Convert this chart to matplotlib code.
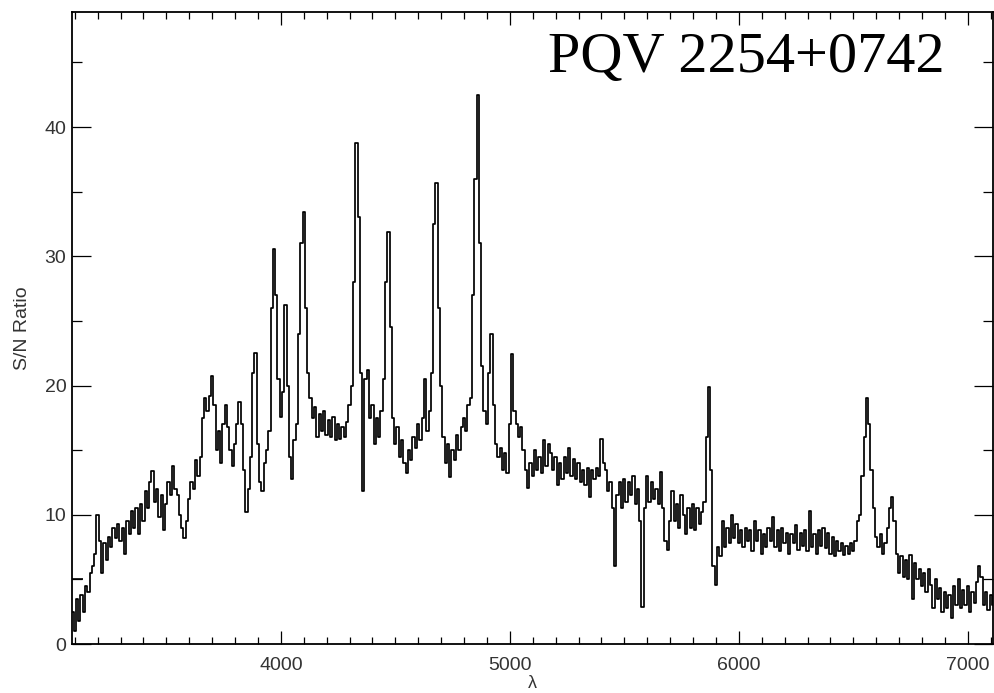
import numpy as np
import matplotlib.pyplot as plt
from matplotlib.ticker import MultipleLocator

# wavelength grid (Angstrom), one bin every 10 A
wavelength = np.arange(3090, 7111, 10)

# S/N ratio, one row per 100 A (row start in comment)
sn_ratio = [
    2.5, 1.0, 3.5, 1.8, 3.8, 2.5, 4.5, 4.0, 5.5, 6.0,        # 3090
    7.0, 10.0, 8.0, 5.5, 7.8, 6.5, 8.3, 7.5, 9.0, 8.2,       # 3190
    9.3, 8.0, 9.0, 7.0, 9.5, 8.5, 10.3, 9.0, 10.5, 8.5,      # 3290
    10.8, 9.5, 11.8, 10.5, 12.5, 13.4, 11.0, 12.0, 9.8, 11.5,  # 3390
    8.8, 10.8, 12.5, 11.5, 13.8, 12.0, 11.5, 10.0, 9.0, 8.2,   # 3490
    9.5, 11.2, 12.5, 12.0, 14.2, 13.0, 14.5, 17.5, 19.0, 18.0,  # 3590
    19.2, 20.7, 18.5, 15.0, 16.5, 14.0, 17.0, 18.5, 16.8, 15.0,  # 3690
    13.8, 15.5, 17.0, 18.7, 17.0, 13.5, 10.2, 12.0, 14.5, 21.0,  # 3790
    22.5, 15.5, 12.5, 11.8, 14.0, 15.0, 16.5, 26.0, 30.6, 27.0,  # 3890
    20.5, 17.6, 19.5, 26.2, 20.0, 14.5, 12.8, 15.8, 17.0, 24.0,  # 3990
    31.0, 33.4, 26.0, 21.0, 19.0, 17.5, 18.3, 16.0, 17.8, 16.5,  # 4090
    18.0, 16.2, 17.3, 16.0, 17.6, 15.8, 17.0, 15.9, 16.8, 16.0,  # 4190
    17.2, 18.5, 20.0, 28.0, 38.8, 33.0, 21.0, 11.8, 20.5, 21.2,  # 4290
    17.5, 18.5, 15.5, 17.5, 16.0, 18.0, 20.5, 28.0, 31.9, 24.5,  # 4390
    17.5, 15.5, 16.8, 14.5, 15.8, 14.0, 13.2, 15.0, 14.2, 16.0,  # 4490
    15.2, 17.0, 15.8, 17.5, 20.5, 16.5, 18.0, 21.0, 32.5, 35.7,  # 4590
    26.0, 20.0, 16.0, 14.0, 15.5, 12.9, 15.0, 14.2, 16.2, 15.0,  # 4690
    16.8, 17.5, 16.5, 18.5, 19.0, 27.0, 36.0, 42.5, 31.0, 21.5,  # 4790
    18.0, 17.0, 21.0, 24.0, 18.5, 15.5, 14.5, 15.2, 13.5, 14.8,  # 4890
    13.2, 17.0, 22.4, 18.0, 17.0, 16.0, 16.8, 15.0, 13.5, 12.1,  # 4990
    14.0, 13.0, 15.0, 13.5, 14.5, 13.2, 15.8, 13.8, 15.5, 14.8,  # 5090
    13.5, 14.5, 12.3, 14.0, 12.8, 14.5, 13.2, 15.2, 13.0, 14.3,  # 5190
    12.8, 14.0, 12.5, 13.5, 12.3, 13.6, 11.4, 13.5, 12.8, 13.6,  # 5290
    13.0, 15.9, 14.0, 13.5, 11.8, 12.5, 10.5, 6.0, 11.5, 12.5,   # 5390
    10.5, 12.8, 11.0, 12.5, 11.5, 13.0, 10.8, 12.0, 9.5, 2.9,    # 5490
    10.5, 13.0, 11.0, 12.5, 11.2, 12.0, 10.8, 13.3, 10.5, 8.0,   # 5590
    7.3, 9.5, 11.8, 9.5, 10.8, 9.0, 11.5, 10.0, 8.5, 10.5,       # 5690
    9.0, 10.8, 8.8, 10.5, 9.3, 10.2, 11.0, 16.0, 19.9, 13.5,     # 5790
    6.0, 4.6, 7.5, 6.8, 9.5, 7.5, 9.0, 7.8, 10.0, 8.2,           # 5890
    9.3, 7.8, 8.8, 7.5, 9.0, 8.0, 8.8, 7.2, 9.5, 8.0,            # 5990
    8.8, 7.0, 8.5, 7.5, 9.0, 8.0, 9.8, 7.5, 8.8, 7.2,            # 6090
    9.0, 7.8, 8.6, 7.0, 8.5, 7.8, 9.2, 7.3, 8.6, 7.6,            # 6190
    8.8, 7.2, 10.3, 7.5, 8.5, 7.0, 8.8, 7.6, 9.0, 7.4,           # 6290
    8.6, 7.0, 8.3, 6.8, 8.0, 7.2, 7.8, 6.9, 7.6, 7.0,            # 6390
    7.8, 7.2, 8.0, 9.5, 10.0, 13.0, 16.0, 19.0, 17.0, 13.5,      # 6490
    10.5, 8.3, 7.5, 8.5, 7.0, 7.8, 9.0, 10.5, 11.4, 9.5,         # 6590
    7.0, 5.5, 6.8, 5.2, 6.5, 5.0, 6.9, 3.5, 6.3, 5.0,            # 6690
    5.8, 4.5, 5.5, 4.0, 5.8, 4.6, 2.8, 5.0, 3.5, 4.3,            # 6790
    2.5, 4.0, 2.8, 3.8, 2.0, 4.5, 3.0, 5.0, 2.8, 4.2,            # 6890
    3.0, 4.5, 2.5, 4.0, 3.2, 4.8, 6.0, 5.2, 3.0, 4.0,            # 6990
    2.6, 3.8, 3.0,                                               # 7090
]

# the wide first bin drawn at the left edge
first_bin_edges = [3088, 3136]
first_bin_value = [5.0]

x_ticks = [4000, 5000, 6000, 7000]
y_ticks = [0, 10, 20, 30, 40]
label = "PQV 2254+0742"

plt.rcParams['font.family'] = ['Liberation Sans', 'DejaVu Sans']

fig = plt.figure(figsize=(9.94, 6.93), dpi=100)
ax = fig.add_axes([0.0724, 0.0707, 0.9266, 0.912])

ax.step(wavelength, sn_ratio, where='mid', color='black', lw=1.25)
ax.stairs(first_bin_value, first_bin_edges, baseline=None, color='black', lw=1.2)

ax.set_xlim(3088, 7110)
ax.set_ylim(0, 48.9)
ax.set_xticks(x_ticks)
ax.set_yticks(y_ticks)
ax.xaxis.set_minor_locator(MultipleLocator(100))
ax.yaxis.set_minor_locator(MultipleLocator(5))

ax.tick_params(axis='both', which='both', direction='in', top=True, right=True,
               colors='black', labelcolor='#333333', labelsize=14, width=0.9)
ax.tick_params(axis='x', which='major', length=9.5, pad=9)
ax.tick_params(axis='x', which='minor', length=5)
ax.tick_params(axis='y', which='major', length=13.5, pad=4)
ax.tick_params(axis='y', which='minor', length=7)
for s in ax.spines.values():
    s.set_linewidth(1.3)

ax.set_xlabel("λ", fontsize=13, color='#333333', labelpad=1)
ax.set_ylabel("S/N Ratio", fontsize=14, color='#333333', labelpad=10)

ax.text(0.947, 0.905, label, transform=ax.transAxes, ha='right', va='baseline',
        fontsize=42, family='Liberation Serif', color='black')

fig.savefig("out.png", dpi=100)
